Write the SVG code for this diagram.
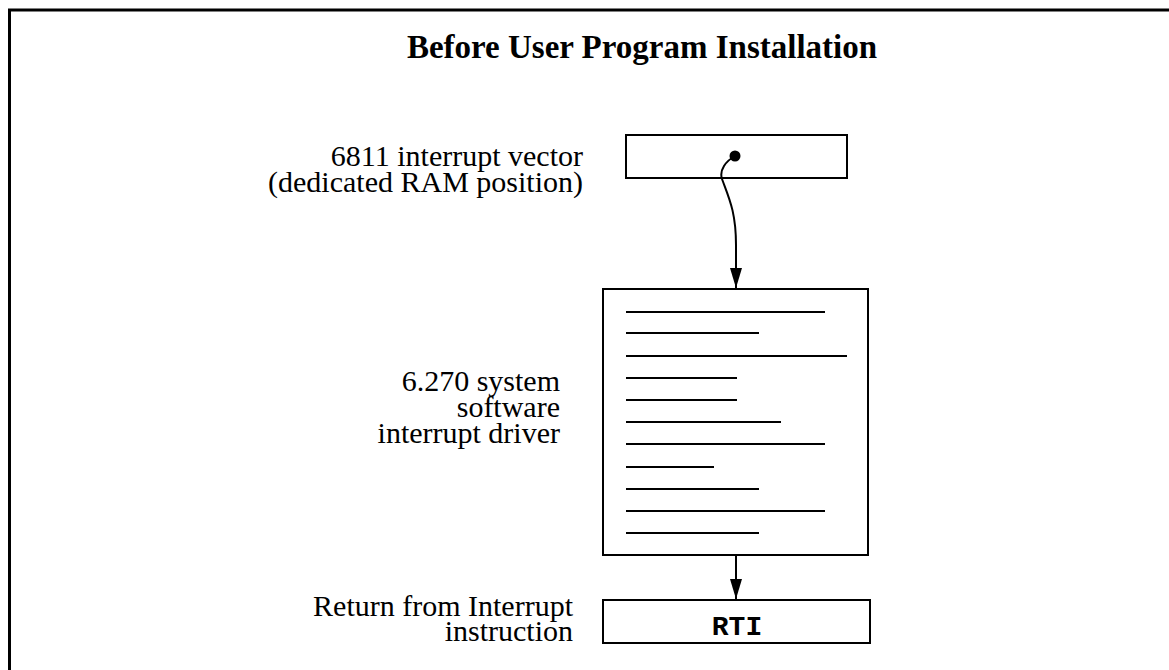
<svg xmlns="http://www.w3.org/2000/svg" width="1169" height="670" viewBox="0 0 1169 670">
<style>
.lbl{font-family:"Liberation Serif","Times New Roman",serif;font-size:30px;fill:#000;text-anchor:end}
.title{font-family:"Liberation Serif","Times New Roman",serif;font-size:33px;font-weight:bold;fill:#000;text-anchor:middle}
.code{font-family:"Liberation Mono","Courier New",monospace;font-size:28px;font-weight:bold;fill:#000;text-anchor:middle}
.box{fill:#fff;stroke:#000;stroke-width:2}
.ln{stroke:#000;stroke-width:2}
.conn{fill:none;stroke:#000;stroke-width:2}
</style>
<defs>
<marker id="ah" markerWidth="20" markerHeight="12" refX="20" refY="6" orient="auto" markerUnits="userSpaceOnUse" viewBox="0 0 20 12">
<path d="M0,0 L20,6 L0,12 Z" fill="#000"/>
</marker>
</defs>
<rect width="1169" height="670" fill="#fff"/>
<rect x="9.5" y="10" width="1200" height="700" fill="none" stroke="#000" stroke-width="3"/>
<text class="title" x="642" y="58">Before User Program Installation</text>

<g id="vector">
<rect class="box" x="626" y="135" width="221" height="43"/>
<circle cx="735" cy="156" r="5.5" fill="#000"/>
<text class="lbl" x="583" y="166">6811 interrupt vector</text>
<text class="lbl" x="583" y="192">(dedicated RAM position)</text>
</g>

<g id="driver">
<rect class="box" x="603" y="289" width="265" height="266"/>
<line class="ln" x1="626" y1="312" x2="825" y2="312"/>
<line class="ln" x1="626" y1="333" x2="759" y2="333"/>
<line class="ln" x1="626" y1="356" x2="847" y2="356"/>
<line class="ln" x1="626" y1="378" x2="737" y2="378"/>
<line class="ln" x1="626" y1="400" x2="737" y2="400"/>
<line class="ln" x1="626" y1="422" x2="781" y2="422"/>
<line class="ln" x1="626" y1="444" x2="825" y2="444"/>
<line class="ln" x1="626" y1="467" x2="714" y2="467"/>
<line class="ln" x1="626" y1="489" x2="759" y2="489"/>
<line class="ln" x1="626" y1="511" x2="825" y2="511"/>
<line class="ln" x1="626" y1="533" x2="759" y2="533"/>
<text class="lbl" x="560" y="391">6.270 system</text>
<text class="lbl" x="560" y="417">software</text>
<text class="lbl" x="560" y="443">interrupt driver</text>
</g>

<g id="rti">
<rect class="box" x="603" y="600" width="267" height="43"/>
<text class="code" x="737" y="635">RTI</text>
<text class="lbl" x="573" y="616">Return from Interrupt</text>
<text class="lbl" x="573" y="641">instruction</text>
</g>

<g id="connectors">
<path class="conn" d="M735,156 C726,161 719,170 722,179 C729,198 736,212 736,245 L736,288" marker-end="url(#ah)"/>
<path class="conn" d="M736,555 L736,599" marker-end="url(#ah)"/>
</g>
</svg>
